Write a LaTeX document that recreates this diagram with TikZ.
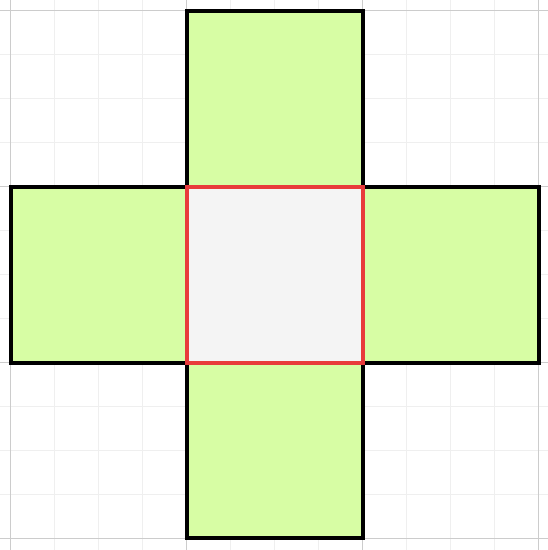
\documentclass[tikz,border=0pt]{standalone}
\definecolor{gridminor}{HTML}{EFEFEF}
\definecolor{gridmajor}{HTML}{CCCCCC}
\definecolor{armfill}{HTML}{D7FDA4}
\definecolor{centerfill}{HTML}{F4F4F4}
\definecolor{centerline}{HTML}{E83A3A}
\begin{document}
\begin{tikzpicture}[x=1pt,y=-1pt,
  minorgrid/.style={draw=gridminor,line width=1pt},
  majorgrid/.style={draw=gridmajor,line width=1pt},
  arm/.style={draw=black,fill=armfill,line width=4pt,line join=miter},
  center/.style={draw=centerline,fill=centerfill,line width=3.2pt,line join=miter}]
\useasboundingbox (0,0) rectangle (548,550);
\fill[white] (0,0) rectangle (548,550);
% grid
\foreach \k in {0,...,12}{
  \draw[minorgrid] ({10+44*\k},0) -- ({10+44*\k},550);
  \draw[minorgrid] (0,{10+44*\k}) -- (548,{10+44*\k});
}
\foreach \k in {0,...,3}{
  \draw[majorgrid] ({10+176*\k},0) -- ({10+176*\k},550);
  \draw[majorgrid] (0,{10+176*\k}) -- (548,{10+176*\k});
}
% arms
\draw[arm] (187,11) rectangle (363,187);
\draw[arm] (11,187) rectangle (187,363);
\draw[arm] (363,187) rectangle (539,363);
\draw[arm] (187,363) rectangle (363,538);
% center
\draw[center] (187,187) rectangle (363,363);
\end{tikzpicture}
\end{document}
